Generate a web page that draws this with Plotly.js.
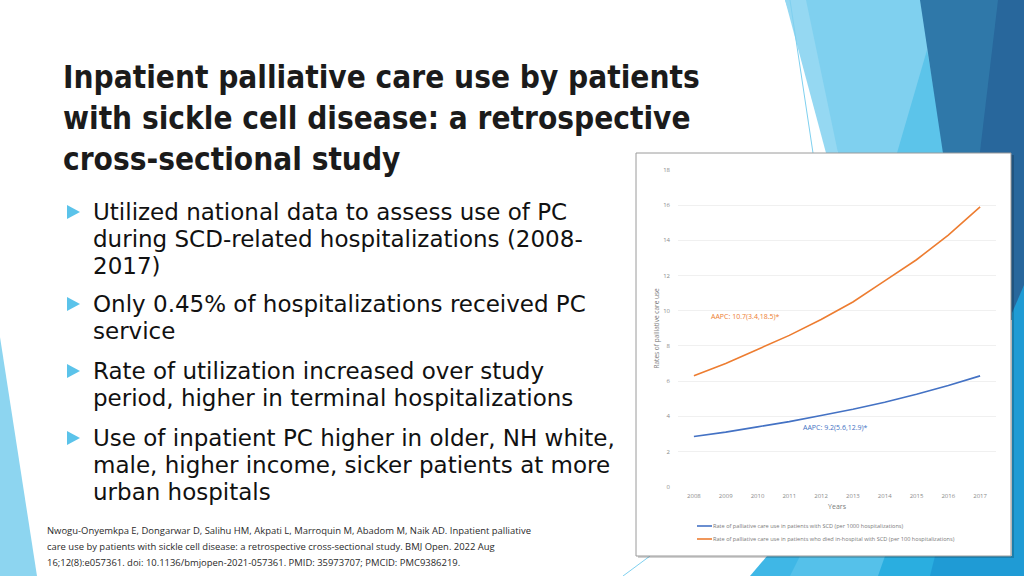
<!DOCTYPE html>
<html><head><meta charset="utf-8">
<script src="https://cdn.plot.ly/plotly-3.0.1.min.js"></script>
<style>html,body{margin:0;padding:0;background:#fff;overflow:hidden}#chart{width:1024px;height:576px}</style>
</head><body><div id="chart"></div>
<script>
// ---- data ----
const years = ['2008','2009','2010','2011','2012','2013','2014','2015','2016','2017'];
const rateAllSCD = [2.85, 3.1, 3.4, 3.7, 4.05, 4.4, 4.8, 5.25, 5.75, 6.3];
const rateDiedSCD = [6.3, 7.0, 7.8, 8.6, 9.5, 10.5, 11.7, 12.9, 14.3, 15.9];
const seriesNames = [
  'Rate of palliative care use in patients with SCD (per 1000 hospitalizations)',
  'Rate of palliative care use in patients who died in-hospital with SCD (per 100 hospitalizations)'
];
const seriesColors = ['#4472C4', '#ED7D31'];
const yTickVals = [0,2,4,6,8,10,12,14,16,18];
const aapcLabels = ['AAPC: 10.7(3.4,18.5)*', 'AAPC: 9.2(5.6,12.9)*'];
const titleLines = ['Inpatient palliative care use by patients','with sickle cell disease: a retrospective','cross-sectional study'];
const bullets = [
  ['Utilized national data to assess use of PC','during SCD-related hospitalizations (2008-','2017)'],
  ['Only 0.45% of hospitalizations received PC','service'],
  ['Rate of utilization increased over study','period, higher in terminal hospitalizations'],
  ['Use of inpatient PC higher in older, NH white,','male, higher income, sicker patients at more','urban hospitals']
];
const citationLines = [
  'Nwogu-Onyemkpa E, Dongarwar D, Salihu HM, Akpati L, Marroquin M, Abadom M, Naik AD. Inpatient palliative',
  'care use by patients with sickle cell disease: a retrospective cross-sectional study. BMJ Open. 2022 Aug',
  '16;12(8):e057361. doi: 10.1136/bmjopen-2021-057361. PMID: 35973707; PMCID: PMC9386219.'
];

// ---- helpers (pixel -> paper) ----
const W = 1024, H = 576;
const px = x => x / W, py = y => 1 - y / H;
function poly(pts, color, extra) {
  const d = pts.map((p, i) => (i ? 'L' : 'M') + px(p[0]).toFixed(5) + ',' + py(p[1]).toFixed(5)).join(' ') + ' Z';
  return Object.assign({type:'path', xref:'paper', yref:'paper', path:d, fillcolor:color, line:{width:0}, layer:'below'}, extra||{});
}
function seg(x0,y0,x1,y1,color,w,layer){
  return {type:'line', xref:'paper', yref:'paper', x0:px(x0), y0:py(y0), x1:px(x1), y1:py(y1), line:{color:color,width:w}, layer:layer||'below'};
}

const shapes = [
  // top-right facets
  poly([[785,0],[924,0],[962,270],[878,270]], '#7fd0ef'),
  poly([[785,0],[806,0],[838,153],[826,153]], '#95d8f2'),
  poly([[927,50],[945,153],[897,153]], '#5cc4ea'),
  poly([[920,0],[1024,0],[1024,320],[968,320]], '#2f78a9'),
  poly([[998,0],[1024,0],[1024,320],[960,320]], '#28679c'),
  poly([[1012,313],[1024,285],[1024,576],[1012,576]], '#1f9bd4'),
  seg(790,0,813,153,'#7fd0ef',1),
  // bottom facets
  poly([[767,556],[1024,556],[1024,576],[750,576]], '#3fb7e6'),
  poly([[800,556],[1024,556],[1024,576],[790,576]], '#55c1ea'),
  poly([[885,556],[1024,556],[1024,576],[878,576]], '#2aaee0'),
  poly([[935,556],[1024,556],[1024,576],[930,576]], '#1f9bd5'),
  seg(623,576,650,556,'#7fd0ef',1),
  // left facet
  poly([[0,337],[37,576],[0,576]], '#8dd5f0'),
  // chart picture box: shadow + white box
  {type:'rect', xref:'paper', yref:'paper', x0:px(638), y0:py(558), x1:px(1014), y1:py(155), fillcolor:'rgba(0,0,0,0.18)', line:{width:0}, layer:'below'},
  {type:'rect', xref:'paper', yref:'paper', x0:px(636), y0:py(556), x1:px(1011), y1:py(153), fillcolor:'#ffffff', line:{color:'#9a9a9a', width:1}, layer:'below'}
];

// bullets triangles
const bulletCenters = [212, 304, 371, 438];
bulletCenters.forEach(c => shapes.push(poly([[67,c-7],[80,c],[67,c+7]], '#5bc3ea', {layer:'above'})));

const annotations = [];
const titleCenters = [77, 118, 159];
titleLines.forEach((t,i) => annotations.push({
  text:t, xref:'paper', yref:'paper', x:px(62), y:py(titleCenters[i]), xanchor:'left', yanchor:'middle',
  showarrow:false, borderpad:0, font:{family:'DejaVu Sans Condensed, DejaVu Sans', size:31.3, color:'#1b1b1b', weight:700}
}));
const bodyCenters = [[212,239,266],[304,331],[371,398],[438,465,492]];
bullets.forEach((lines,bi) => lines.forEach((t,li) => annotations.push({
  text:t, xref:'paper', yref:'paper', x:px(92), y:py(bodyCenters[bi][li]), xanchor:'left', yanchor:'middle',
  showarrow:false, borderpad:0, font:{family:'DejaVu Sans', size:23, color:'#111111'}
})));
const citeCenters = [530, 546, 562];
citationLines.forEach((t,i) => annotations.push({
  text:t, xref:'paper', yref:'paper', x:px(46), y:py(citeCenters[i]), xanchor:'left', yanchor:'middle',
  showarrow:false, borderpad:0, font:{family:'Open Sans, Liberation Sans', size:9.45, color:'#2a2a2a'}
}));
// AAPC labels on the chart
annotations.push({text:aapcLabels[0], xref:'x', yref:'y', x:0.47, y:9.69, xanchor:'left', yanchor:'middle', showarrow:false,
  font:{family:'Open Sans, Liberation Sans', size:7, color:seriesColors[1]}});
annotations.push({text:aapcLabels[1], xref:'x', yref:'y', x:3.36, y:3.38, xanchor:'left', yanchor:'middle', showarrow:false,
  font:{family:'Open Sans, Liberation Sans', size:7, color:seriesColors[0]}});

// legend (drawn manually for compact spacing)
const legendRows = [526, 539];
seriesNames.forEach((n,i) => {
  shapes.push(seg(697, legendRows[i], 712, legendRows[i], seriesColors[i], 1.6, 'above'));
  annotations.push({text:n, xref:'paper', yref:'paper', x:px(712), y:py(legendRows[i]), xanchor:'left', yanchor:'middle',
    showarrow:false, borderpad:0, font:{family:'Open Sans, Liberation Sans', size:5.6, color:'#7a7a7a'}});
});

const traces = [
  {x:years, y:rateAllSCD, name:seriesNames[0], type:'scatter', mode:'lines', line:{color:seriesColors[0], width:1.6}},
  {x:years, y:rateDiedSCD, name:seriesNames[1], type:'scatter', mode:'lines', line:{color:seriesColors[1], width:1.6}}
];

const layout = {
  width:W, height:H, margin:{l:0,r:0,t:0,b:0},
  paper_bgcolor:'#ffffff', plot_bgcolor:'rgba(0,0,0,0)', showlegend:false,
  xaxis:{domain:[px(678), px(996)], type:'category', range:[-0.5, 9.5], showgrid:false, zeroline:false, showline:false,
    ticks:'', ticklabelstandoff:4, tickfont:{family:'Open Sans, Liberation Sans', size:6, color:'#8a8a8a'},
    title:{text:'Years', font:{family:'Open Sans, Liberation Sans', size:7, color:'#7a7a7a'}, standoff:5}},
  yaxis:{domain:[py(486.7), py(170)], range:[0,18], tickvals:yTickVals, showgrid:true, gridcolor:'#ececec', gridwidth:0.8,
    zeroline:false, showline:false, ticks:'', ticklabelstandoff:7,
    tickfont:{family:'Open Sans, Liberation Sans', size:6, color:'#8a8a8a'},
    title:{text:'Rates of palliative care use', font:{family:'Open Sans, Liberation Sans', size:6.5, color:'#7a7a7a'}, standoff:2}},
  shapes:shapes, annotations:annotations
};
Plotly.newPlot('chart', traces, layout, {displayModeBar:false, staticPlot:true});
</script></body></html>
